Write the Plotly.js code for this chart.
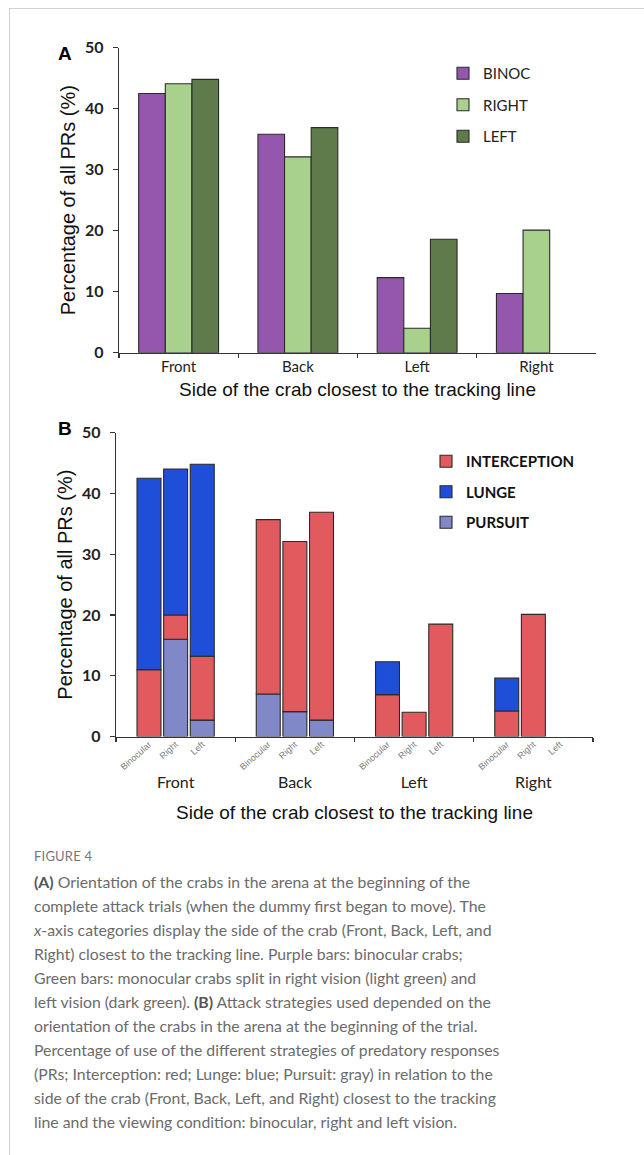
<!DOCTYPE html>
<html><head><meta charset="utf-8">
<script src="https://cdn.plot.ly/plotly-3.0.1.min.js"></script>
<style>
html,body{margin:0;padding:0;background:#fff;width:644px;height:1155px;overflow:hidden}
#frame{position:absolute;left:9px;top:8px;width:660px;height:1200px;border-top:1px solid #d2d2d2;border-left:1px solid #d2d2d2}
#chart{position:absolute;left:0;top:0;width:644px;height:840px}
#cap{position:absolute;left:34px;top:844px;width:610px;font-family:Lato,"Open Sans",sans-serif;color:#6b6b6b;font-size:15.8px;line-height:24px;white-space:nowrap}
#cap .fig{font-size:13px;color:#777;letter-spacing:0.2px;margin-bottom:2px;height:24px}
#cap b{color:#555}
</style></head>
<body>
<div id="frame"></div>
<div id="chart"></div>
<div id="cap">
<div class="fig">FIGURE 4</div>
<b>(A)</b> Orientation of the crabs in the arena at the beginning of the<br>
complete attack trials (when the dummy first began to move). The<br>
<i>x</i>-axis categories display the side of the crab (Front, Back, Left, and<br>
Right) closest to the tracking line. Purple bars: binocular crabs;<br>
Green bars: monocular crabs split in right vision (light green) and<br>
left vision (dark green). <b>(B)</b> Attack strategies used depended on the<br>
orientation of the crabs in the arena at the beginning of the trial.<br>
Percentage of use of the different strategies of predatory responses<br>
(PRs; Interception: red; Lunge: blue; Pursuit: gray) in relation to the<br>
side of the crab (Front, Back, Left, and Right) closest to the tracking<br>
line and the viewing condition: binocular, right and left vision.
</div>
<script>
// ---- data ----
const sides = ['Front', 'Back', 'Left', 'Right'];
// Panel A: orientation per viewing condition
const seriesNamesA = ['BINOC', 'RIGHT', 'LEFT'];
const binocA = [42.5, 35.8, 12.3, 9.7];
const rightA = [44.1, 32.1, 4.0, 20.1];
const leftA  = [44.8, 36.9, 18.6, 0];
// Panel B: strategy segments per viewing condition
const conditionsB = ['Binocular', 'Right', 'Left'];
const strategyNamesB = ['INTERCEPTION', 'LUNGE', 'PURSUIT'];
const pursuitBinoc = [0, 7.0, 0, 0];
const pursuitRight = [16.0, 4.1, 0, 0];
const pursuitLeft  = [2.7, 2.7, 0, 0];
const interceptBinoc = [11.0, 28.7, 6.9, 4.2];
const interceptRight = [4.0, 28.0, 4.0, 20.1];
const interceptLeft  = [10.5, 34.2, 18.5, 0];
const lungeBinoc = [31.5, 0, 5.4, 5.4];
const lungeRight = [24.0, 0, 0, 0];
const lungeLeft  = [31.6, 0, 0, 0];
const yTicks = [0, 10, 20, 30, 40, 50];

// ---- styles ----
const colorsA = ['#9457ad', '#a9d18e', '#5f7a4b'];
const colInter = '#e05a5e', colLunge = '#1f4ed8', colPursuit = '#8088c8';
const outline = {color: '#2a2a2a', width: 1.1};
const calibri = 'Lato, "Open Sans", sans-serif';
const arial = '"Liberation Sans", Arial, sans-serif';
const bargap = 0.33;
const hideZero = arr => arr.map(v => (v === 0 ? null : v));

const traces = [];
[binocA, rightA, leftA].forEach((vals, i) => {
  traces.push({
    type: 'bar', x: sides, y: hideZero(vals), name: seriesNamesA[i],
    xaxis: 'x', yaxis: 'y', legend: 'legend', legendgroup: 'a' + i,
    marker: {color: colorsA[i], line: outline}, hoverinfo: 'skip'
  });
});

const slot = (1 - bargap) / 3;
const barW = slot * 0.9;
const pursuitB = [pursuitBinoc, pursuitRight, pursuitLeft];
const interB = [interceptBinoc, interceptRight, interceptLeft];
const lungeB = [lungeBinoc, lungeRight, lungeLeft];
conditionsB.forEach((cond, j) => {
  const p = pursuitB[j], it = interB[j], lu = lungeB[j];
  const baseInter = p.slice();
  const baseLunge = p.map((v, k) => v + it[k]);
  const segs = [
    {name: strategyNamesB[2], y: p, base: p.map(() => 0), color: colPursuit, rank: 3},
    {name: strategyNamesB[0], y: it, base: baseInter, color: colInter, rank: 1},
    {name: strategyNamesB[1], y: lu, base: baseLunge, color: colLunge, rank: 2}
  ];
  segs.forEach(s => {
    traces.push({
      type: 'bar', x: sides, y: hideZero(s.y), base: s.base, name: s.name,
      width: barW, offset: (j - 1) * slot - barW / 2,
      xaxis: 'x2', yaxis: 'y2', legend: 'legend2',
      legendgroup: s.name, legendrank: s.rank, showlegend: j === 0,
      marker: {color: s.color, line: outline}, hoverinfo: 'skip'
    });
  });
});

// sub-category tick positions for panel B
const subVals = [], subText = [];
sides.forEach((s, i) => conditionsB.forEach((c, j) => { subVals.push(i + (j - 1) * slot); subText.push(c); }));
// invisible carrier so the sub-label axis is drawn
traces.push({type: 'scatter', mode: 'markers', x: subVals, y: subVals.map(() => null),
  xaxis: 'x3', yaxis: 'y2', showlegend: false, hoverinfo: 'skip'});

const axisLine = {showline: true, linecolor: '#333', linewidth: 1.3, ticks: 'outside', tickcolor: '#333', tickwidth: 1.3, showgrid: false, zeroline: false};
const yTitleFont = {family: arial, size: 20, color: '#111'};
const xTitleFont = {family: arial, size: 19, color: '#111'};

const layout = {
  width: 644, height: 840,
  margin: {l: 0, r: 0, t: 0, b: 0},
  paper_bgcolor: 'rgba(0,0,0,0)', plot_bgcolor: 'rgba(0,0,0,0)',
  barmode: 'group', bargap: bargap, bargroupgap: 0,
  showlegend: true,
  xaxis: Object.assign({}, axisLine, {
    domain: [119/644, 596/644], anchor: 'y', type: 'category', tickson: 'boundaries', ticklen: 4,
    range: [-0.5, 3.5], tickfont: {family: calibri, size: 15, color: '#222'},
    title: {text: 'Side of the crab closest to the tracking line', font: xTitleFont, standoff: 8}
  }),
  yaxis: Object.assign({}, axisLine, {
    domain: [1 - 352.7/840, 1 - 47.7/840], anchor: 'x', range: [0, 50], tickvals: yTicks, ticklen: 5,
    tickfont: {family: calibri, size: 16, color: '#222', weight: 'bold'}, ticklabelstandoff: 6,
    title: {text: 'Percentage of all PRs (%)', font: yTitleFont, standoff: 4}
  }),
  xaxis2: Object.assign({}, axisLine, {
    domain: [116/644, 593/644], anchor: 'y2', type: 'category', tickson: 'boundaries', ticklen: 4,
    range: [-0.5, 3.5], tickfont: {family: calibri, size: 16, color: '#222'}, ticklabelstandoff: 31,
    title: {text: 'Side of the crab closest to the tracking line', font: xTitleFont, standoff: 15}
  }),
  xaxis3: {
    domain: [116/644, 593/644], anchor: 'y2', overlaying: 'x2', visible: true, type: 'linear',
    range: [-0.5, 3.5], tickmode: 'array', tickvals: subVals, ticktext: subText, tickangle: -42,
    ticks: '', showline: false, showgrid: false, zeroline: false,
    tickfont: {family: arial, size: 9, color: '#7a7a7a'}
  },
  yaxis2: Object.assign({}, axisLine, {
    domain: [1 - 736.5/840, 1 - 432.7/840], anchor: 'x2', range: [0, 50], tickvals: yTicks, ticklen: 5,
    tickfont: {family: calibri, size: 16, color: '#222', weight: 'bold'}, ticklabelstandoff: 6,
    title: {text: 'Percentage of all PRs (%)', font: yTitleFont, standoff: 4}
  }),
  legend: {
    x: 443/644, y: 1 - 57/840, xanchor: 'left', yanchor: 'top', bgcolor: 'rgba(0,0,0,0)',
    traceorder: 'grouped', tracegroupgap: 9,
    font: {family: calibri, size: 15, color: '#222'}
  },
  legend2: {
    x: 426/644, y: 1 - 445/840, xanchor: 'left', yanchor: 'top', bgcolor: 'rgba(0,0,0,0)',
    traceorder: 'grouped', tracegroupgap: 8,
    font: {family: calibri, size: 15, color: '#111', weight: 'bold'}
  },
  annotations: [
    {text: '<b>A</b>', x: 65/644, y: 1 - 53.5/840, xref: 'paper', yref: 'paper', xanchor: 'center', yanchor: 'middle',
     showarrow: false, font: {family: arial, size: 19, color: '#000'}},
    {text: '<b>B</b>', x: 65/644, y: 1 - 428.3/840, xref: 'paper', yref: 'paper', xanchor: 'center', yanchor: 'middle',
     showarrow: false, font: {family: arial, size: 19, color: '#000'}}
  ]
};

Plotly.newPlot('chart', traces, layout, {staticPlot: true, displayModeBar: false});
</script>
</body></html>
